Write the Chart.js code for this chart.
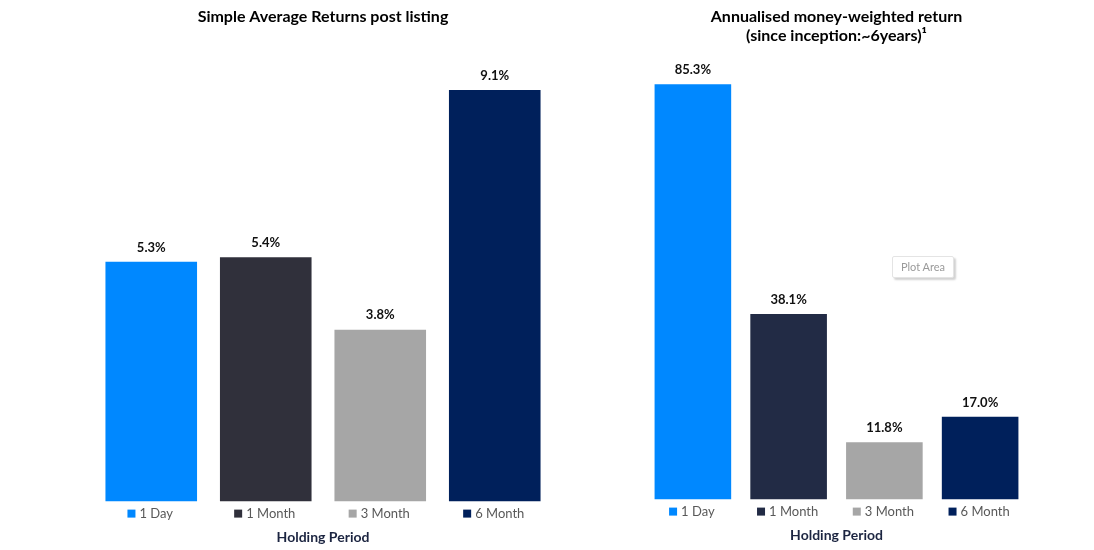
<!DOCTYPE html>
<html>
<head>
<meta charset="utf-8">
<title>Holding Period returns</title>
<script src="https://cdn.jsdelivr.net/npm/chart.js@4.4.0/dist/chart.umd.min.js"></script>
<style>
  body { margin: 0; background: #ffffff; }
  #wrap { position: relative; width: 1094px; height: 550px; overflow: hidden; }
  .box { position: absolute; top: 0; height: 550px; }
  #leftBox { left: 0; width: 560px; }
  #rightBox { left: 580px; width: 514px; }
  #plotArea {
    position: absolute; left: 892px; top: 256px; width: 60px; height: 20px;
    background: #ffffff; border: 1px solid #e4e4e4; border-radius: 2px;
    box-shadow: 2px 2px 2px rgba(0, 0, 0, 0.18);
    font: 11px Lato, sans-serif; color: #9a9a9a; text-align: center; line-height: 20px;
  }
</style>
</head>
<body>
<div id="wrap">
  <div class="box" id="leftBox"><canvas id="leftChart"></canvas></div>
  <div class="box" id="rightBox"><canvas id="rightChart"></canvas></div>
  <div id="plotArea">Plot Area</div>
</div>
<script>
'use strict'

// Data
const categories = ['1 Day', '1 Month', '3 Month', '6 Month'];
const simpleReturns = [5.3, 5.4, 3.8, 9.1];
const moneyWeightedReturns = [85.3, 38.1, 11.8, 17.0];

const leftColours = ['#0088ff', '#30303b', '#a6a6a6', '#00205b'];
const rightColours = ['#0088ff', '#222b45', '#a6a6a6', '#00205b'];

const leftTitle = 'Simple Average Returns post listing';
const rightTitle = ['Annualised money-weighted return', '(since inception:~6years)\u00b9'];
const axisTitle = 'Holding Period';

const fontName = 'Lato, "Open Sans", sans-serif';
const tickOffset = 5;

// writes "x.x%" above each bar
const barLabels = {
  id: 'barLabels',
  afterDatasetsDraw(chart) {
    let ctx = chart.ctx;
    let meta = chart.getDatasetMeta(0);
    let values = chart.data.datasets[0].data;
    ctx.save();
    ctx.font = 'bold 13px ' + fontName;
    ctx.fillStyle = '#111111';
    ctx.textAlign = 'center';
    ctx.textBaseline = 'bottom';
    for (let i = 0; i < meta.data.length; i++) {
      let bar = meta.data[i];
      ctx.fillText(values[i].toFixed(1) + '%', bar.x, bar.y - 8);
    }
    ctx.restore();
  }
};

// little coloured squares in front of each category label
const tickSquares = {
  id: 'tickSquares',
  afterDraw(chart) {
    let ctx = chart.ctx;
    let xScale = chart.scales.x;
    let colours = chart.data.datasets[0].backgroundColor;
    ctx.save();
    ctx.font = '13px ' + fontName;
    for (let i = 0; i < chart.data.labels.length; i++) {
      let x = xScale.getPixelForTick(i) + tickOffset;
      let w = ctx.measureText(chart.data.labels[i]).width;
      let y = xScale.top + 4 + 8;
      ctx.fillStyle = colours[i];
      ctx.fillRect(x - w / 2 - 12, y - 4, 8, 8);
    }
    ctx.restore();
  }
};

function makeChart(canvasId, values, colours, title, yMax, pad, titlePad) {
  return new Chart(document.getElementById(canvasId), {
    type: 'bar',
    data: {
      labels: categories,
      datasets: [{
        data: values,
        backgroundColor: colours,
        barPercentage: 0.8,
        categoryPercentage: 1.0
      }]
    },
    options: {
      responsive: true,
      maintainAspectRatio: false,
      animation: false,
      devicePixelRatio: 1,
      layout: { padding: pad },
      plugins: {
        legend: { display: false },
        tooltip: { enabled: false },
        title: {
          display: true,
          text: title,
          color: '#000000',
          font: { family: fontName, size: 16, weight: 'bold', lineHeight: 1.2 },
          padding: titlePad
        }
      },
      scales: {
        x: {
          grid: { display: false, drawTicks: false },
          border: { display: false },
          ticks: {
            color: '#595959',
            font: { family: fontName, size: 13 },
            padding: 4,
            labelOffset: tickOffset,
            maxRotation: 0
          },
          title: {
            display: true,
            text: axisTitle,
            color: '#1c2541',
            font: { family: fontName, size: 14, weight: 'bold', lineHeight: 1.2 },
            padding: { top: 4, bottom: 4 }
          }
        },
        y: {
          display: false,
          min: 0,
          max: yMax
        }
      }
    },
    plugins: [barLabels, tickSquares]
  });
}

makeChart('leftChart', simpleReturns, leftColours, leftTitle, 10,
  { left: 94, right: 8, top: 0, bottom: 0 }, { top: 7, bottom: 23 });
makeChart('rightChart', moneyWeightedReturns, rightColours, rightTitle, 90,
  { left: 65, right: 66, top: 0, bottom: 2 }, { top: 7, bottom: 16 });
</script>
</body>
</html>
